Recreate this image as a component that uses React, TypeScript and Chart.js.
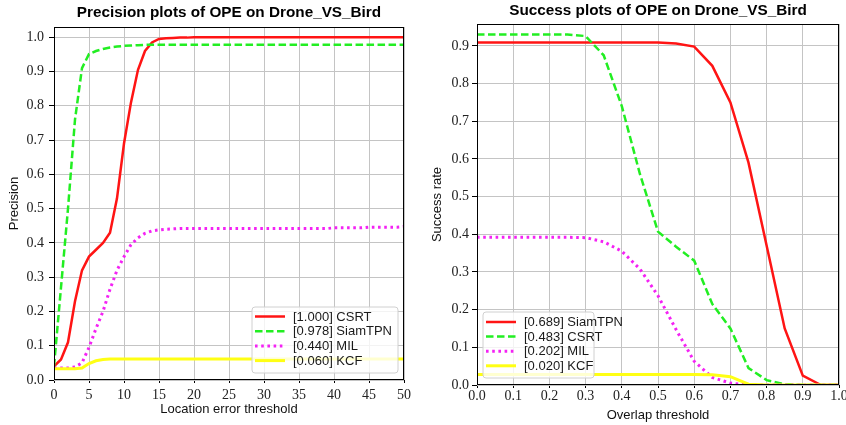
import React, { useEffect, useRef } from 'react';
import { Chart, registerables } from 'chart.js';
Chart.register(...registerables);

// ---------- Precision plot (location error threshold) ----------
const precThresholds = [
  0, 1, 2, 3, 4, 5, 6, 7, 8, 9, 10, 11, 12, 13, 14, 15, 16, 17, 18, 19, 20,
  21, 22, 23, 24, 25, 26, 27, 28, 29, 30, 31, 32, 33, 34, 35, 36, 37, 38, 39, 40,
  41, 42, 43, 44, 45, 46, 47, 48, 49, 50,
];
const precCSRT = [
  0.04, 0.06, 0.11, 0.23, 0.32, 0.36, 0.38, 0.40, 0.43, 0.53, 0.69,
  0.81, 0.905, 0.96, 0.985, 0.995, 0.997, 0.998, 0.999, 0.999, 1.0,
  1.0, 1.0, 1.0, 1.0, 1.0, 1.0, 1.0, 1.0, 1.0, 1.0,
  1.0, 1.0, 1.0, 1.0, 1.0, 1.0, 1.0, 1.0, 1.0, 1.0,
  1.0, 1.0, 1.0, 1.0, 1.0, 1.0, 1.0, 1.0, 1.0, 1.0,
];
const precSiamTPN = [
  0.04, 0.27, 0.50, 0.76, 0.91, 0.951, 0.96, 0.966, 0.97, 0.973, 0.975,
  0.976, 0.977, 0.978, 0.978, 0.978, 0.978, 0.978, 0.978, 0.978, 0.978,
  0.978, 0.978, 0.978, 0.978, 0.978, 0.978, 0.978, 0.978, 0.978, 0.978,
  0.978, 0.978, 0.978, 0.978, 0.978, 0.978, 0.978, 0.978, 0.978, 0.978,
  0.978, 0.978, 0.978, 0.978, 0.978, 0.978, 0.978, 0.978, 0.978, 0.978,
];
const precMIL = [
  0.035, 0.035, 0.035, 0.038, 0.05, 0.095, 0.15, 0.20, 0.265, 0.32, 0.36,
  0.395, 0.415, 0.428, 0.435, 0.438, 0.44, 0.441, 0.442, 0.442, 0.442,
  0.442, 0.442, 0.442, 0.442, 0.442, 0.442, 0.442, 0.442, 0.442, 0.442,
  0.442, 0.442, 0.442, 0.442, 0.442, 0.442, 0.442, 0.442, 0.442, 0.444,
  0.444, 0.444, 0.444, 0.444, 0.446, 0.446, 0.446, 0.446, 0.446, 0.448,
];
const precKCF = [
  0.033, 0.033, 0.033, 0.033, 0.035, 0.048, 0.056, 0.06, 0.061, 0.061, 0.061,
  0.061, 0.061, 0.061, 0.061, 0.061, 0.061, 0.061, 0.061, 0.061, 0.061,
  0.061, 0.061, 0.061, 0.061, 0.061, 0.061, 0.061, 0.061, 0.061, 0.061,
  0.061, 0.061, 0.061, 0.061, 0.061, 0.061, 0.061, 0.061, 0.061, 0.061,
  0.061, 0.061, 0.061, 0.061, 0.061, 0.061, 0.061, 0.061, 0.061, 0.061,
];
const precLabels = ['[1.000] CSRT', '[0.978] SiamTPN', '[0.440] MIL', '[0.060] KCF'];

// ---------- Success plot (overlap threshold) ----------
const succThresholds = [
  0, 0.05, 0.1, 0.15, 0.2, 0.25, 0.3, 0.35, 0.4, 0.45, 0.5,
  0.55, 0.6, 0.65, 0.7, 0.75, 0.8, 0.85, 0.9, 0.95, 1.0,
];
const succSiamTPN = [
  0.909, 0.909, 0.909, 0.909, 0.909, 0.909, 0.909, 0.909, 0.909, 0.909, 0.909,
  0.906, 0.898, 0.847, 0.75, 0.59, 0.37, 0.15, 0.025, 0, 0,
];
const succCSRT = [
  0.93, 0.93, 0.93, 0.93, 0.93, 0.93, 0.926, 0.875, 0.74, 0.56, 0.407,
  0.367, 0.33, 0.215, 0.15, 0.045, 0.013, 0.002, 0, 0, 0,
];
const succMIL = [
  0.392, 0.392, 0.392, 0.392, 0.392, 0.392, 0.391, 0.38, 0.355, 0.308, 0.237,
  0.147, 0.063, 0.02, 0.005, 0, 0, 0, 0, 0, 0,
];
const succKCF = [
  0.028, 0.028, 0.028, 0.028, 0.028, 0.028, 0.028, 0.028, 0.028, 0.028, 0.028,
  0.028, 0.028, 0.027, 0.022, 0.002, 0, 0, 0, 0, 0,
];
const succLabels = ['[0.689] SiamTPN', '[0.483] CSRT', '[0.202] MIL', '[0.020] KCF'];

// ---------- styles by rank ----------
const rankStyles = [
  { color: '#ff1414', width: 2.5, dash: [] as number[] },
  { color: '#22ee22', width: 2.5, dash: [7.5, 3.5] },
  { color: '#f422f4', width: 3, dash: [2.6, 3.6] },
  { color: '#ffff14', width: 3, dash: [] as number[] },
];

const SANS = '"Liberation Sans", Arial, sans-serif';
const SERIF = '"Liberation Serif", "Times New Roman", serif';

function makeDatasets(xs: number[], series: number[][], labels: string[]) {
  return series.map((ys, i) => ({
    label: labels[i],
    data: xs.map((x, j) => ({ x, y: ys[j] })),
    borderColor: rankStyles[i].color,
    borderWidth: rankStyles[i].width,
    borderDash: rankStyles[i].dash,
    pointRadius: 0,
    fill: false,
    tension: 0,
    order: -i,
  }));
}

type Decor = {
  key: string;
  title: string;
  titleY: number;
  legendSide: 'left' | 'right';
  legendInset: number;
  legendBottom: number;
  legendW: number;
  legendH: number;
  firstRow: number;
  rowGap: number;
};

function makeDecorPlugin(cfg: Decor) {
  return {
    id: 'decor_' + cfg.key,
    afterDatasetsDraw(chart: any) {
      const { ctx, chartArea: a } = chart;
      ctx.save();
      // frame
      ctx.strokeStyle = '#000';
      ctx.lineWidth = 1;
      ctx.setLineDash([]);
      const l = Math.round(a.left) + 0.5;
      const t = Math.round(a.top) + 0.5;
      const r = Math.round(a.right) - 0.5;
      const b = Math.round(a.bottom) - 0.5;
      ctx.strokeRect(l, t, r - l, b - t);

      // legend
      const bx = cfg.legendSide === 'right' ? a.right - cfg.legendInset - cfg.legendW : a.left + cfg.legendInset;
      const by = a.bottom - cfg.legendBottom - cfg.legendH;
      ctx.beginPath();
      const rad = 3;
      ctx.moveTo(bx + rad, by);
      ctx.lineTo(bx + cfg.legendW - rad, by);
      ctx.quadraticCurveTo(bx + cfg.legendW, by, bx + cfg.legendW, by + rad);
      ctx.lineTo(bx + cfg.legendW, by + cfg.legendH - rad);
      ctx.quadraticCurveTo(bx + cfg.legendW, by + cfg.legendH, bx + cfg.legendW - rad, by + cfg.legendH);
      ctx.lineTo(bx + rad, by + cfg.legendH);
      ctx.quadraticCurveTo(bx, by + cfg.legendH, bx, by + cfg.legendH - rad);
      ctx.lineTo(bx, by + rad);
      ctx.quadraticCurveTo(bx, by, bx + rad, by);
      ctx.closePath();
      ctx.fillStyle = 'rgba(255,255,255,0.8)';
      ctx.fill();
      ctx.strokeStyle = '#d0d0d0';
      ctx.lineWidth = 1;
      ctx.stroke();

      chart.data.datasets.forEach((ds: any, i: number) => {
        const y = by + cfg.firstRow + i * cfg.rowGap;
        ctx.beginPath();
        ctx.strokeStyle = ds.borderColor;
        ctx.lineWidth = ds.borderWidth;
        ctx.setLineDash(ds.borderDash || []);
        ctx.moveTo(bx + 3, y);
        ctx.lineTo(bx + 33, y);
        ctx.stroke();
        ctx.setLineDash([]);
        ctx.fillStyle = '#1a1a1a';
        ctx.font = `13px ${SANS}`;
        ctx.textAlign = 'left';
        ctx.textBaseline = 'middle';
        ctx.fillText(ds.label, bx + 41, y + 0.5);
      });

      // title
      ctx.fillStyle = '#000';
      ctx.font = `bold 15.3px ${SANS}`;
      ctx.textAlign = 'center';
      ctx.textBaseline = 'middle';
      ctx.fillText(cfg.title, (a.left + a.right) / 2, cfg.titleY);
      ctx.restore();
    },
  };
}

type AxisCfg = {
  xMin: number; xMax: number; xStep: number; xDecimals: number;
  yMax: number;
  xTitle: string; yTitle: string;
  yWidth: number; xHeight: number;
  padTop: number; padRight: number;
  tickFont: number;
  xTickPad: number; yTickPad: number;
  xTitlePad: number; yTitlePad: number;
};

function makeOptions(c: AxisCfg) {
  const gridColor = '#c4c4c4';
  return {
    responsive: false,
    animation: false,
    events: [],
    layout: { padding: { top: c.padTop, right: c.padRight, left: 0, bottom: 0 } },
    plugins: { legend: { display: false }, title: { display: false }, tooltip: { enabled: false } },
    scales: {
      x: {
        type: 'linear',
        min: c.xMin,
        max: c.xMax,
        ticks: {
          stepSize: c.xStep,
          includeBounds: false,
          maxRotation: 0,
          autoSkip: false,
          padding: c.xTickPad,
          color: '#222',
          font: { family: SERIF, size: c.tickFont },
          callback: (v: any) => Number(v).toFixed(c.xDecimals),
        },
        grid: { color: gridColor, lineWidth: 1, tickLength: 3, tickColor: '#000', drawTicks: true },
        border: { display: false },
        title: { display: true, text: c.xTitle, color: '#111', font: { family: SANS, size: 13 }, padding: { top: 0, bottom: c.xTitlePad } },
        afterFit: (s: any) => { s.height = c.xHeight; s.paddingLeft = 0; s.paddingRight = 0; },
      },
      y: {
        type: 'linear',
        min: 0,
        max: c.yMax,
        ticks: {
          stepSize: 0.1,
          includeBounds: false,
          autoSkip: false,
          padding: c.yTickPad,
          color: '#222',
          font: { family: SERIF, size: c.tickFont },
          callback: (v: any) => Number(v).toFixed(1),
        },
        grid: { color: gridColor, lineWidth: 1, tickLength: 5, tickColor: '#000', drawTicks: true },
        border: { display: false },
        title: { display: true, text: c.yTitle, color: '#111', font: { family: SANS, size: 13 }, padding: { top: c.yTitlePad, bottom: 0 } },
        afterFit: (s: any) => { s.width = c.yWidth; s.paddingTop = 0; s.paddingBottom = 0; },
      },
    },
  };
}

export default function App() {
  const leftRef = useRef<HTMLCanvasElement>(null);
  const rightRef = useRef<HTMLCanvasElement>(null);

  useEffect(() => {
    const left = new Chart(leftRef.current as HTMLCanvasElement, {
      type: 'line',
      data: { datasets: makeDatasets(precThresholds, [precCSRT, precSiamTPN, precMIL, precKCF], precLabels) as any },
      options: makeOptions({
        xMin: 0, xMax: 50, xStep: 5, xDecimals: 0, yMax: 1.03,
        xTitle: 'Location error threshold', yTitle: 'Precision',
        yWidth: 54, xHeight: 45, padTop: 27, padRight: 19,
        tickFont: 14, xTickPad: 4, yTickPad: 5, xTitlePad: 8, yTitlePad: 7,
      }) as any,
      plugins: [makeDecorPlugin({
        key: 'prec', title: 'Precision plots of OPE on Drone_VS_Bird', titleY: 13,
        legendSide: 'right', legendInset: 6, legendBottom: 7, legendW: 146, legendH: 66,
        firstRow: 9.5, rowGap: 14.7,
      })],
    });
    const right = new Chart(rightRef.current as HTMLCanvasElement, {
      type: 'line',
      data: { datasets: makeDatasets(succThresholds, [succSiamTPN, succCSRT, succMIL, succKCF], succLabels) as any },
      options: makeOptions({
        xMin: 0, xMax: 1, xStep: 0.1, xDecimals: 1, yMax: 0.958,
        xTitle: 'Overlap threshold', yTitle: 'Success rate',
        yWidth: 54, xHeight: 40, padTop: 24, padRight: 7,
        tickFont: 14, xTickPad: 0, yTickPad: 3, xTitlePad: 2, yTitlePad: 7,
      }) as any,
      plugins: [makeDecorPlugin({
        key: 'succ', title: 'Success plots of OPE on Drone_VS_Bird', titleY: 11,
        legendSide: 'left', legendInset: 6, legendBottom: 7, legendW: 111, legendH: 66,
        firstRow: 10, rowGap: 14.6,
      })],
    });
    return () => {
      left.destroy();
      right.destroy();
    };
  }, []);

  return (
    <div style={{ position: 'absolute', left: 0, top: 0, width: 846, height: 425, background: '#fff', overflow: 'hidden' }}>
      <canvas ref={leftRef} width={423} height={425} style={{ position: 'absolute', left: 0, top: 0 }} />
      <canvas ref={rightRef} width={423} height={425} style={{ position: 'absolute', left: 423, top: 0 }} />
    </div>
  );
}
